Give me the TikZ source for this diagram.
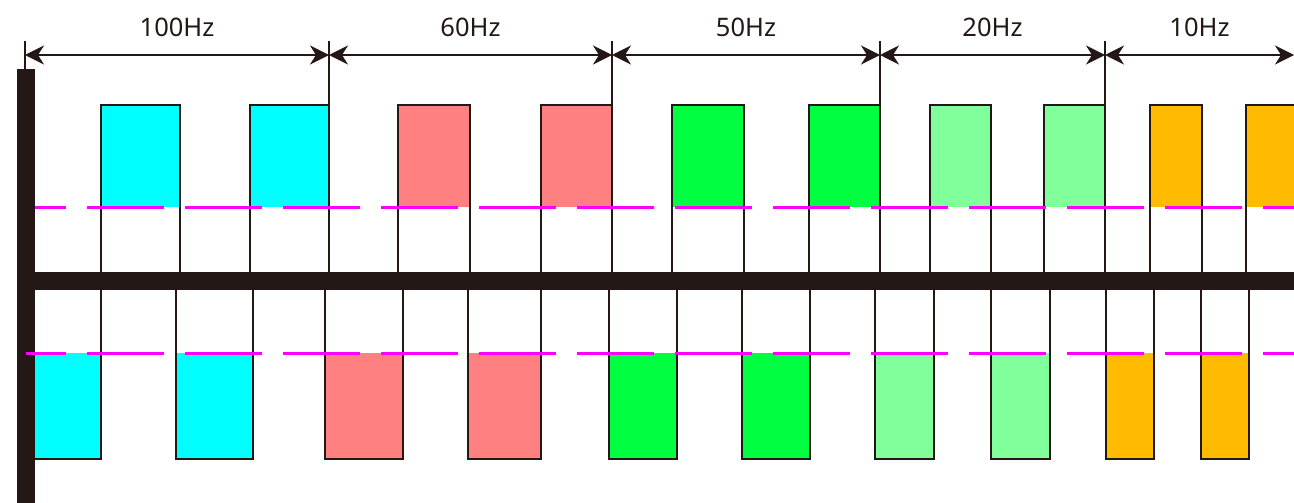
\documentclass[tikz,border=0pt]{standalone}
\usepackage{fontspec}
\setmainfont{Noto Sans}
\usetikzlibrary{arrows.meta}

\definecolor{ink}{HTML}{231815}
\definecolor{pcyan}{HTML}{00FFFF}
\definecolor{psalmon}{HTML}{FF8080}
\definecolor{pgreen}{HTML}{00FF40}
\definecolor{plight}{HTML}{80FF9A}
\definecolor{porange}{HTML}{FFBB00}
\definecolor{guide}{HTML}{FF00FF}

\begin{document}
\begin{tikzpicture}[x=1pt,y=-1pt]
      \tikzstyle{pulse}=[draw=ink,line width=1.6pt]
      \tikzstyle{level}=[guide,line width=3pt,dash pattern=on 77pt off 21pt]
      \tikzstyle{dim}=[ink,line width=1.8pt,{Stealth[length=19pt,width=19pt,inset=6pt]}-{Stealth[length=19pt,width=19pt,inset=6pt]}]
      \tikzstyle{tick}=[ink,line width=1.6pt]
      \tikzstyle{hz}=[text=ink,font=\fontsize{25.5}{30}\selectfont,inner sep=0pt]
      \useasboundingbox (0,0) rectangle (1294,503);
      \clip (0,0) rectangle (1294,503);
      % upper pulses
      \foreach \a/\b/\c in {101/180/pcyan,250/329/pcyan,398/470/psalmon,541/612/psalmon,
          672/744/pgreen,809/880/pgreen,930/991/plight,1044/1105/plight,1150/1202/porange,1246/1320/porange}
        {\fill[\c] (\a,105) rectangle (\b,207);
         \draw[pulse] (\a,272) -- (\a,105) -- (\b,105) -- (\b,272);}
      % lower pulses
      \foreach \a/\b/\c in {25/101/pcyan,176/253/pcyan,325/403/psalmon,468/541/psalmon,
          609/677/pgreen,742/810/pgreen,875/934/plight,991/1050/plight,1106/1154/porange,1201/1249/porange}
        {\fill[\c] (\a,353) rectangle (\b,459);
         \draw[pulse] (\a,290) -- (\a,459) -- (\b,459) -- (\b,290);}
      % axes
      \fill[ink] (17,69) rectangle (35,503);
      \fill[ink] (17,272) rectangle (1294,290);
      \draw[level,dash phase=46pt] (35,207) -- (1294,207);
      \draw[level,dash phase=37pt] (26,353) -- (1294,353);
      % frequency spans
      \draw[tick] (25,41) -- (25,69);
      \foreach \a/\b/\t [count=\i] in {25/329/100Hz,329/612/60Hz,612/880/50Hz,880/1105/20Hz,1105/1294/10Hz}
        {\coordinate (s\i) at (\a,55);
         \coordinate (e\i) at (\b,55);
         \ifnum\i<5 \draw[tick] (\b,41) -- (\b,105);\fi
         \draw[dim] (s\i) -- (e\i);
         \node[hz] (hz\i) at ({(\a+\b)/2},27) {\t};}
\end{tikzpicture}
\end{document}
